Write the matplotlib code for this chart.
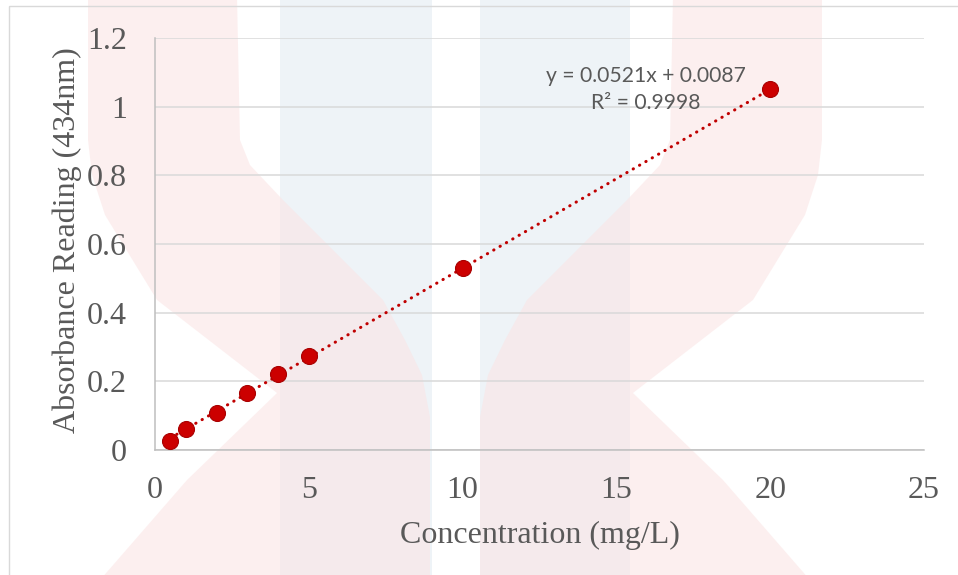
"""Calibration curve: absorbance at 434 nm against concentration."""
import matplotlib.pyplot as plt
import numpy as np
from matplotlib.patches import Polygon, Rectangle

concentration = [0.5, 1, 2, 3, 4, 5, 10, 20]
absorbance = [0.027, 0.062, 0.107, 0.165, 0.221, 0.275, 0.530, 1.050]
slope = 0.0521
intercept = 0.0087
r_squared = 0.9998

x_ticks = [0, 5, 10, 15, 20, 25]
y_ticks = [0, 0.2, 0.4, 0.6, 0.8, 1, 1.2]
y_tick_labels = ["0", "0.2", "0.4", "0.6", "0.8", "1", "1.2"]

RED = "#c00000"
TEXT = "#595959"
W, H = 958, 575

fig = plt.figure(figsize=(W / 100, H / 100), dpi=100)

# faint logo behind the chart, laid out in pixel units
bg = fig.add_axes([0, 0, 1, 1], zorder=0)
bg.set_xlim(0, W)
bg.set_ylim(H, 0)
bg.axis("off")
for x0, x1 in [(280, 432), (480, 630)]:
    bg.add_patch(Rectangle((x0, 0), x1 - x0, H, color="#eef3f7", lw=0))
pink_left = [(88, -5), (88, 140), (92, 175), (105, 215), (157, 300), (277, 393),
             (187, 480), (100, 580), (430, 580), (430, 417), (422, 375), (405, 340),
             (383, 300), (283, 200), (250, 165), (240, 140), (237, -5)]
pink_right = [(910 - x, y) for x, y in pink_left]
for pts in (pink_left, pink_right):
    bg.add_patch(Polygon(pts, closed=True, facecolor="#fbe3e3", alpha=0.55, lw=0))
bg.add_patch(Rectangle((9, 6), W, H, fill=False, edgecolor="#d9d9d9", lw=1))

ax = fig.add_axes([155 / W, 1 - 450 / H, (924 - 155) / W, (450 - 38) / H], zorder=1)
ax.patch.set_alpha(0)

# least-squares trendline from the stated coefficients
fit_x = np.array([concentration[0], concentration[-1]])
ax.plot(fit_x, slope * fit_x + intercept, color=RED, lw=2.2,
        linestyle=(0, (0.1, 2.3)), dash_capstyle="round", zorder=2)
ax.plot(concentration, absorbance, "o", ms=11.5, mfc="#cc0000", mec="#a80000",
        mew=0.8, zorder=3)

ax.set_xlim(0, 25)
ax.set_ylim(0, 1.2)
ax.set_xticks(x_ticks)
ax.set_yticks(y_ticks)
ax.set_yticklabels(y_tick_labels)
ax.tick_params(length=0, labelsize=23, labelcolor=TEXT)
ax.tick_params(axis="y", pad=20)
ax.tick_params(axis="x", pad=19)
for lab in ax.get_xticklabels() + ax.get_yticklabels():
    lab.set_family("Liberation Serif")

ax.grid(axis="y", color="#d9d9d9", lw=1.1)
ax.set_axisbelow(True)
for side in ("top", "right"):
    ax.spines[side].set_visible(False)
for side in ("left", "bottom"):
    ax.spines[side].set_color("#bfbfbf")
    ax.spines[side].set_linewidth(1.1)

ax.set_xlabel("Concentration (mg/L)", family="Liberation Serif", fontsize=23, color=TEXT)
ax.set_ylabel("Absorbance Reading (434nm)", family="Liberation Serif", fontsize=23, color=TEXT)
ax.xaxis.set_label_coords(0.5, -0.172)
ax.yaxis.set_label_coords(-0.095, 0.51)

ax.text(15.96, 1.049, f"y = {slope}x + {intercept}\nR² = {r_squared}", ha="center",
        va="center", family="Lato", fontsize=15.2, color=TEXT, linespacing=1.45)

fig.savefig("out.png", dpi=100)
